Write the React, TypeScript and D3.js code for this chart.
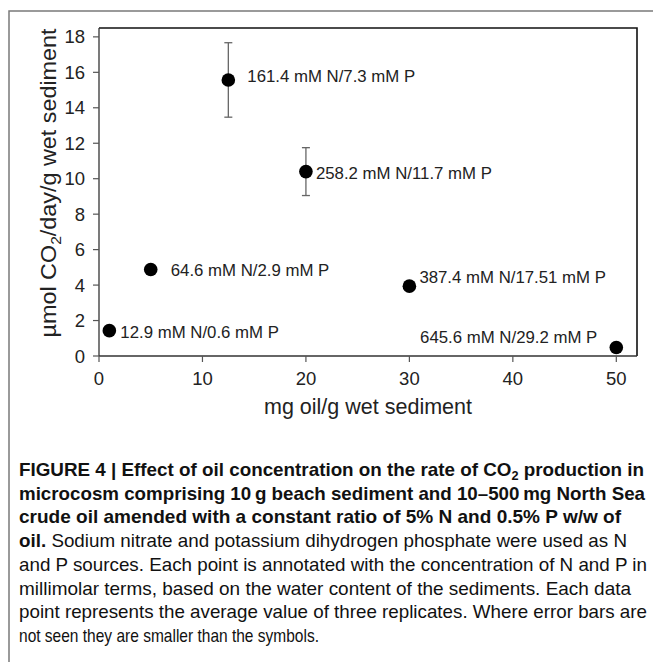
import * as d3 from "d3";

const W = 654;
const H = 662;
const plot = { left: 99, right: 637, top: 28, bottom: 356 };

// data
const oil = [1, 5, 12.5, 20, 30, 50];
const co2 = [1.43, 4.88, 15.57, 10.4, 3.94, 0.48];
const err = [0, 0, 2.1, 1.35, 0.15, 0];
const labels = [
  "12.9 mM N/0.6 mM P",
  "64.6 mM N/2.9 mM P",
  "161.4 mM N/7.3 mM P",
  "258.2 mM N/11.7 mM P",
  "387.4 mM N/17.51 mM P",
  "645.6 mM N/29.2 mM P",
];
const xTicks = [0, 10, 20, 30, 40, 50];
const yTicks = [0, 2, 4, 6, 8, 10, 12, 14, 16, 18];

// where each annotation sits relative to its point
const labelOffset = [
  { dx: 11, dy: 1, anchor: "start" },
  { dx: 20, dy: 1, anchor: "start" },
  { dx: 19, dy: -4, anchor: "start" },
  { dx: 10, dy: 1, anchor: "start" },
  { dx: 10, dy: -9, anchor: "start" },
  { dx: -19, dy: -10, anchor: "end" },
];

const captionLines = [
  "microcosm comprising 10\u2009g beach sediment and 10\u2013500\u2009mg North Sea",
  "crude oil amended with a constant ratio of 5% N and 0.5% P w/w of",
  " Sodium nitrate and potassium dihydrogen phosphate were used as N",
  "and P sources. Each point is annotated with the concentration of N and P in",
  "millimolar terms, based on the water content of the sediments. Each data",
  "point represents the average value of three replicates. Where error bars are",
  "not seen they are smaller than the symbols.",
];
const captionWidths = [625, 626, 602, 608, 628, 612, 628, 300];

const font = "'Liberation Sans', Arial, Helvetica, sans-serif";

export default function App() {
  const x = d3.scaleLinear().domain([0, 52]).range([plot.left, plot.right]);
  const y = d3.scaleLinear().domain([0, 18.5]).range([plot.bottom, plot.top]);

  const capX = 19;
  const capY0 = 476;
  const capStep = 23.7;
  const capSize = 18.5;

  return (
    <svg
      width={W}
      height={H}
      style={{ position: "absolute", left: 0, top: 0, background: "#fff" }}
      fontFamily={font}
    >
      <rect width={W} height={H} fill="#fff" />
      {/* figure frame */}
      <path d={`M9,${H} V11 H653`} fill="none" stroke="#7a7a7a" strokeWidth={1.5} />

      {/* plot box */}
      <path
        d={`M${plot.left},${plot.top} H${plot.right} V${plot.bottom}`}
        fill="none"
        stroke="#111"
        strokeWidth={1.6}
      />
      <line x1={plot.left} x2={plot.left} y1={plot.top} y2={plot.bottom} stroke="#333" strokeWidth={1.3} />
      <line x1={plot.left} x2={plot.right} y1={plot.bottom} y2={plot.bottom} stroke="#333" strokeWidth={1.3} />

      {/* y axis */}
      {yTicks.map((t) => (
        <g key={"y" + t}>
          <line x1={plot.left - 6} x2={plot.left} y1={y(t)} y2={y(t)} stroke="#555" strokeWidth={1.2} />
          <text x={85} y={y(t) + 6.5} textAnchor="end" fontSize={18.5} fill="#222">
            {t}
          </text>
        </g>
      ))}
      {/* x axis */}
      {xTicks.map((t) => (
        <g key={"x" + t}>
          <line x1={x(t)} x2={x(t)} y1={plot.bottom} y2={plot.bottom + 6} stroke="#555" strokeWidth={1.2} />
          <text x={x(t)} y={plot.bottom + 29} textAnchor="middle" fontSize={18.5} fill="#222">
            {t}
          </text>
        </g>
      ))}

      <text
        x={(plot.left + plot.right) / 2}
        y={414}
        textAnchor="middle"
        fontSize={21.5}
        fill="#222"
        textLength={208}
        lengthAdjust="spacingAndGlyphs"
      >
        mg oil/g wet sediment
      </text>
      <text
        transform={`translate(56,183) rotate(-90)`}
        textAnchor="middle"
        fontSize={22.5}
        fill="#222"
        textLength={309}
        lengthAdjust="spacingAndGlyphs"
      >
        µmol CO
        <tspan fontSize={15} dy={5}>2</tspan>
        <tspan dy={-5}>/day/g wet sediment</tspan>
      </text>

      {/* error bars */}
      {oil.map((o, i) =>
        err[i] > 0 ? (
          <g key={"e" + i} stroke="#666" strokeWidth={1.3}>
            <line x1={x(o)} x2={x(o)} y1={y(co2[i] - err[i])} y2={y(co2[i] + err[i])} />
            <line x1={x(o) - 4} x2={x(o) + 4} y1={y(co2[i] - err[i])} y2={y(co2[i] - err[i])} />
            <line x1={x(o) - 4} x2={x(o) + 4} y1={y(co2[i] + err[i])} y2={y(co2[i] + err[i])} />
          </g>
        ) : null
      )}

      {/* points */}
      {oil.map((o, i) => (
        <circle key={"p" + i} cx={x(o)} cy={y(co2[i])} r={6.8} fill="#000" />
      ))}

      {/* annotations */}
      {oil.map((o, i) => (
        <text
          key={"l" + i}
          x={x(o) + labelOffset[i].dx}
          y={y(co2[i]) + labelOffset[i].dy + 6}
          textAnchor={labelOffset[i].anchor}
          fontSize={16.8}
          fill="#222"
        >
          {labels[i]}
        </text>
      ))}

      {/* caption */}
      <text
        x={capX}
        y={capY0}
        fontSize={capSize}
        fontWeight="bold"
        fill="#111"
        textLength={captionWidths[0]}
        lengthAdjust="spacingAndGlyphs"
      >
        FIGURE 4 | Effect of oil concentration on the rate of CO
        <tspan fontSize={12.5} dy={4}>2</tspan>
        <tspan dy={-4}> production in</tspan>
      </text>
      {captionLines.map((line, i) => (
        <text
          key={"c" + i}
          x={capX}
          y={capY0 + capStep * (i + 1)}
          fontSize={capSize}
          fontWeight={i < 2 ? "bold" : "normal"}
          fill="#111"
          textLength={captionWidths[i + 1]}
          lengthAdjust="spacingAndGlyphs"
        >
          {i === 2 ? <tspan fontWeight="bold">oil.</tspan> : null}
          {line}
        </text>
      ))}
    </svg>
  );
}
